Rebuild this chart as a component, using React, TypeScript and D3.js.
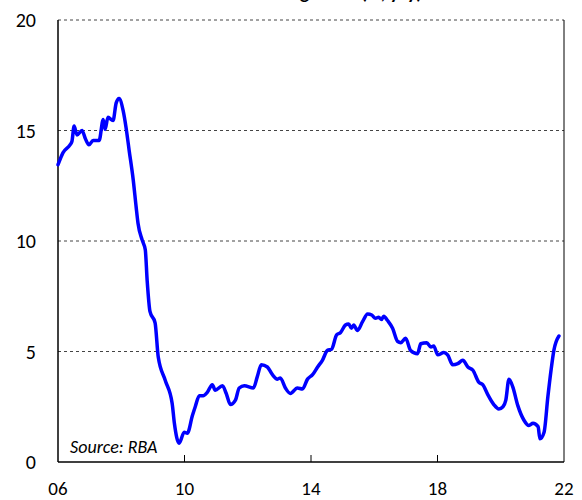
import React from "react";
import * as d3 from "d3";

// decimal years and credit growth (%)
const dates = [
  2006.0, 2006.16, 2006.38, 2006.44, 2006.51, 2006.6, 2006.76, 2006.86, 2006.98,
  2007.11, 2007.3, 2007.43, 2007.49, 2007.58, 2007.74, 2007.84, 2007.93,
  2008.06, 2008.15, 2008.25, 2008.38, 2008.47, 2008.53, 2008.66, 2008.76, 2008.82, 2008.91,
  2009.07, 2009.17, 2009.39, 2009.61, 2009.68, 2009.83, 2009.99,
  2010.09, 2010.25, 2010.34, 2010.47, 2010.59, 2010.72, 2010.88, 2010.97,
  2011.2, 2011.32, 2011.45, 2011.61, 2011.73, 2011.89,
  2012.18, 2012.3, 2012.43, 2012.62, 2012.78, 2012.94,
  2013.03, 2013.19, 2013.35, 2013.57, 2013.73, 2013.89,
  2014.05, 2014.21, 2014.36, 2014.52, 2014.65, 2014.81, 2014.93,
  2015.09, 2015.19, 2015.28, 2015.35, 2015.47, 2015.63, 2015.79, 2015.92,
  2016.04, 2016.14, 2016.23, 2016.3, 2016.42, 2016.58, 2016.74, 2016.84, 2016.99,
  2017.15, 2017.37, 2017.47, 2017.66, 2017.79, 2017.88,
  2018.01, 2018.2, 2018.32, 2018.48, 2018.64, 2018.8, 2018.96,
  2019.12, 2019.31, 2019.43, 2019.59, 2019.78, 2019.94,
  2020.07, 2020.16, 2020.26, 2020.38, 2020.54, 2020.73, 2020.89,
  2021.02, 2021.18, 2021.24, 2021.37, 2021.49, 2021.59, 2021.68, 2021.84,
];

const growth = [
  13.45, 14.0, 14.35, 14.5, 15.2, 14.8, 15.0, 14.65, 14.35,
  14.55, 14.55, 15.5, 15.05, 15.6, 15.45, 16.25, 16.45,
  15.9, 15.15, 14.1, 12.75, 11.55, 10.8, 10.05, 9.6, 8.2, 6.8,
  6.3, 4.75, 3.7, 2.65, 1.75, 0.85, 1.35,
  1.3, 2.1, 2.5, 3.0, 3.0, 3.15, 3.5, 3.25,
  3.45, 3.1, 2.6, 2.8, 3.35, 3.45,
  3.35, 3.85, 4.4, 4.3, 3.95, 3.75,
  3.8, 3.35, 3.1, 3.35, 3.3, 3.75,
  3.95, 4.3, 4.6, 5.05, 5.1, 5.75, 5.85,
  6.2, 6.25, 6.05, 6.2, 5.95, 6.35, 6.7, 6.65,
  6.5, 6.55, 6.45, 6.6, 6.4, 6.05, 5.45, 5.4, 5.6,
  5.05, 4.9, 5.35, 5.4, 5.2, 5.25,
  4.85, 4.95, 4.85, 4.4, 4.45, 4.6, 4.3,
  4.15, 3.6, 3.5, 3.05, 2.6, 2.4,
  2.5, 2.8, 3.75, 3.4, 2.55, 1.9, 1.65,
  1.75, 1.6, 1.05, 1.35, 2.95, 4.15, 5.05, 5.7,
];

const yTicks = [0, 5, 10, 15, 20];
const xTicks = [2006, 2010, 2014, 2018, 2022];
const xTickLabels = ["06", "10", "14", "18", "22"];

const W = 582;
const H = 500;
const margin = { top: 20, right: 18, bottom: 38, left: 58 };

export default function App() {
  const x = d3.scaleLinear().domain([2006, 2022]).range([margin.left, W - margin.right]);
  const y = d3.scaleLinear().domain([0, 20]).range([H - margin.bottom, margin.top]);

  const points = dates.map((d, i) => [d, growth[i]] as [number, number]);
  const line = d3
    .line<[number, number]>()
    .x((d) => x(d[0]))
    .y((d) => y(d[1]))
    .curve(d3.curveMonotoneX);

  const font = "Carlito, 'Open Sans', 'Noto Sans', sans-serif";

  return (
    <svg
      width={W}
      height={H}
      style={{ position: "absolute", left: 0, top: 0, background: "#fff" }}
      fontFamily={font}
    >
      <text x={300} y={-1} textAnchor="middle" fontSize={19} fontWeight="bold">
        Business credit growth (%, y/y)
      </text>

      {/* dashed gridlines */}
      {yTicks
        .filter((t) => t > 0)
        .map((t) => (
          <line
            key={t}
            x1={x(2006)}
            x2={x(2022)}
            y1={y(t)}
            y2={y(t)}
            stroke="#444"
            strokeWidth={1}
            strokeDasharray="3,3"
          />
        ))}

      {/* frame */}
      <line x1={x(2006)} x2={x(2006)} y1={y(0)} y2={y(20)} stroke="#000" strokeWidth={1.5} />
      <line x1={x(2022)} x2={x(2022)} y1={y(0)} y2={y(20)} stroke="#000" strokeWidth={1} />
      <line x1={x(2006)} x2={x(2022)} y1={y(0)} y2={y(0)} stroke="#000" strokeWidth={1.5} />

      {/* inner x ticks */}
      {xTicks.slice(1, -1).map((t) => (
        <line key={t} x1={x(t)} x2={x(t)} y1={y(0)} y2={y(0) - 7} stroke="#000" strokeWidth={1} />
      ))}

      {yTicks.map((t) => (
        <text key={t} x={36} y={y(t)} dy="0.36em" fontSize={20} textAnchor="end">
          {t}
        </text>
      ))}

      {xTicks.map((t, i) => (
        <text key={t} x={x(t)} y={495} textAnchor="middle" fontSize={19}>
          {xTickLabels[i]}
        </text>
      ))}

      <text x={70} y={453} fontSize={18} fontStyle="italic">
        Source: RBA
      </text>

      <path
        d={line(points) ?? ""}
        fill="none"
        stroke="#0000ff"
        strokeWidth={3.5}
        strokeLinejoin="round"
        strokeLinecap="round"
      />
    </svg>
  );
}
